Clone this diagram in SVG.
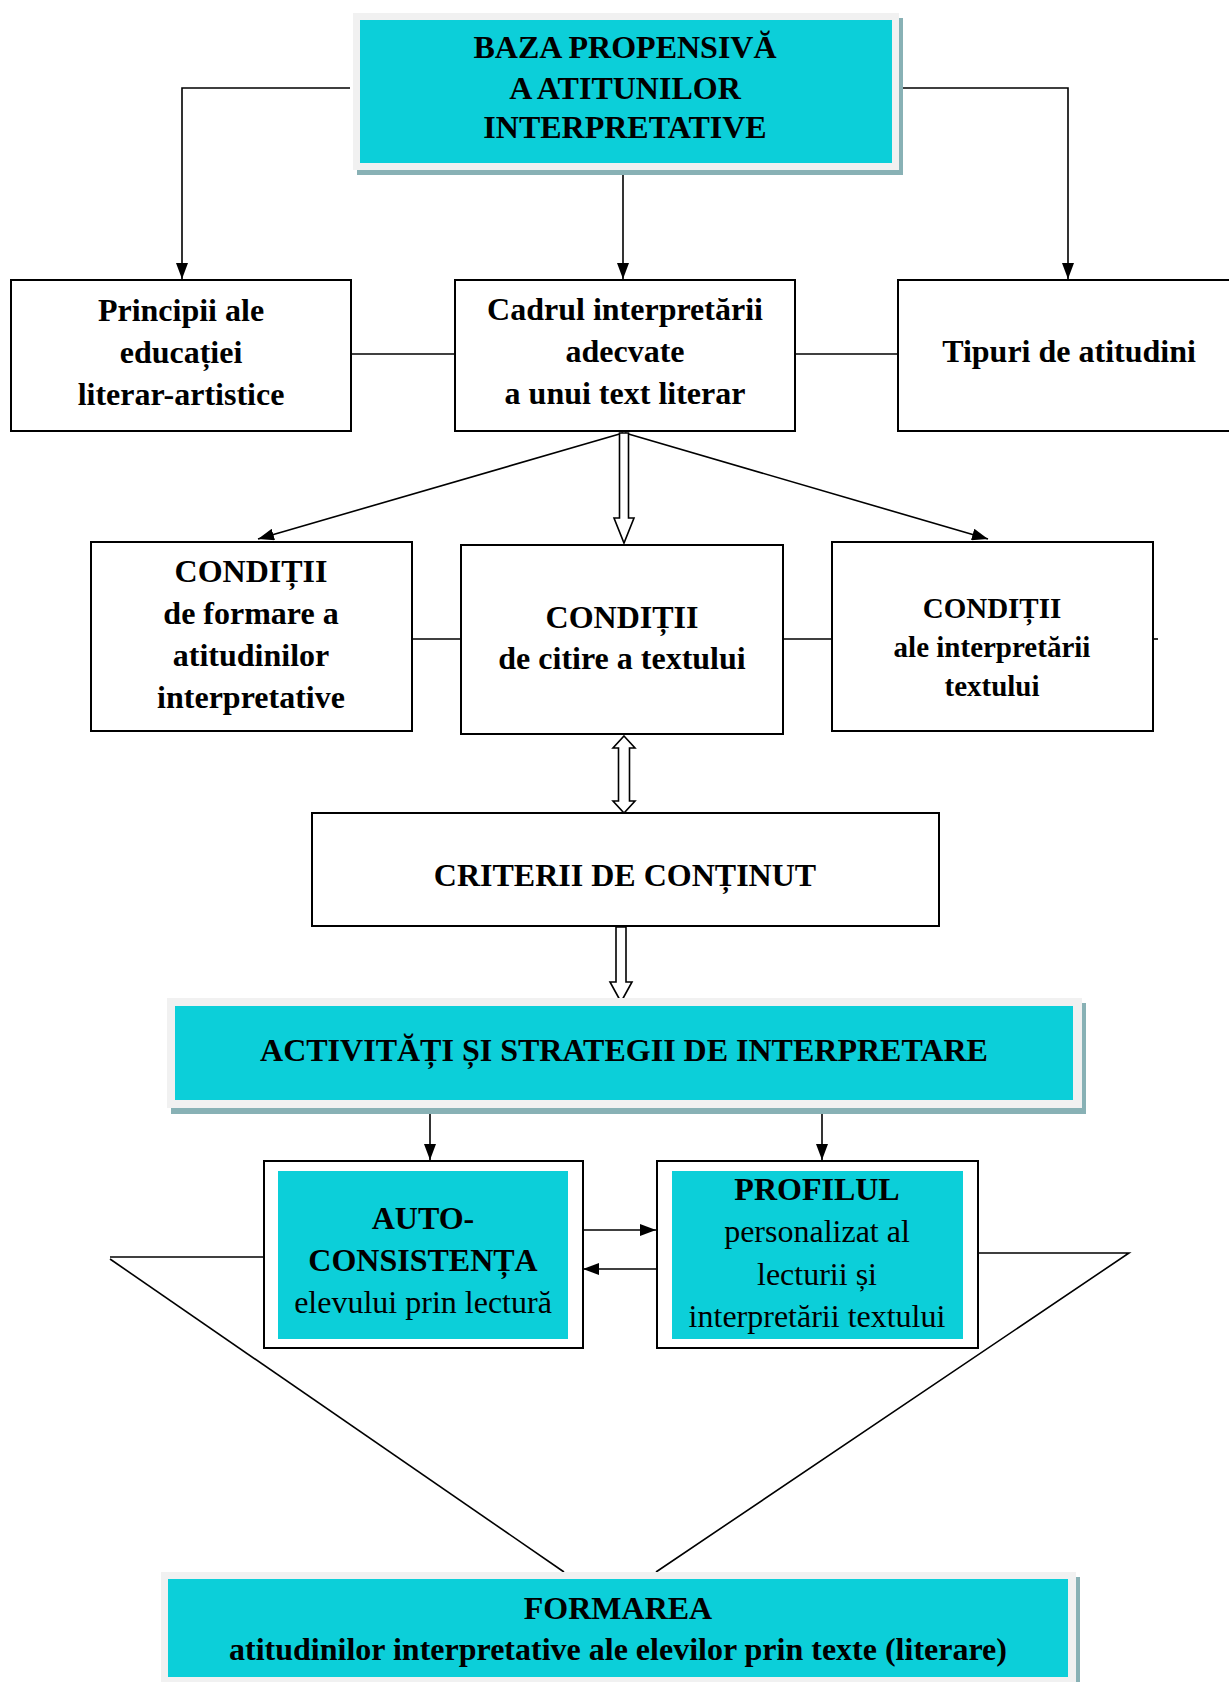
<svg xmlns="http://www.w3.org/2000/svg" width="1229" height="1682" viewBox="0 0 1229 1682">
<style>
  .box { fill: #ffffff; stroke: #000000; stroke-width: 2; }
  .frame { fill: #f1f1f1; }
  .shadow { fill: #88b1b5; }
  .cyan { fill: #0ccfd9; }
  .t { font-family: "Liberation Serif", "Times New Roman", serif; font-size: 32px; fill: #000; text-anchor: middle; }
  .b { font-weight: bold; }
  .s { font-size: 29px; }
  .ln { fill: none; stroke: #000; stroke-width: 1.6; }
  .hollow { fill: #ffffff; stroke: #000; stroke-width: 1.6; stroke-linejoin: miter; }
</style>
<defs>
  <marker id="ah" markerWidth="16" markerHeight="12" refX="16" refY="6" orient="auto" markerUnits="userSpaceOnUse">
    <path d="M0,0 L16,6 L0,12 z" fill="#000"/>
  </marker>
</defs>
<rect width="1229" height="1682" fill="#ffffff"/>

<g id="connectors">
  <polyline class="ln" points="350,88 182,88 182,279" marker-end="url(#ah)"/>
  <polyline class="ln" points="900,88 1068,88 1068,279" marker-end="url(#ah)"/>
  <line class="ln" x1="623" y1="174" x2="623" y2="279" marker-end="url(#ah)"/>
  <line class="ln" x1="351" y1="354" x2="455" y2="354"/>
  <line class="ln" x1="795" y1="354" x2="898" y2="354"/>
  <line class="ln" x1="623" y1="433" x2="258" y2="539" marker-end="url(#ah)"/>
  <line class="ln" x1="625" y1="433" x2="988" y2="539" marker-end="url(#ah)"/>
  <path class="hollow" d="M619.5,433 L619.5,518 L614,518 L624,543 L634,518 L628.5,518 L628.5,433 Z"/>
  <line class="ln" x1="412" y1="639" x2="461" y2="639"/>
  <line class="ln" x1="783" y1="639" x2="832" y2="639"/>
  <line class="ln" x1="1153" y1="639" x2="1158" y2="639"/>
  <path class="hollow" d="M624,736 L635,748 L629.5,748 L629.5,801 L635,801 L624,813 L613,801 L618.5,801 L618.5,748 L613,748 Z"/>
  <path class="hollow" d="M616,927 L616,982 L610,982 L621,1002 L632,982 L626,982 L626,927 Z"/>
  <line class="ln" x1="430" y1="1110" x2="430" y2="1160" marker-end="url(#ah)"/>
  <line class="ln" x1="822" y1="1110" x2="822" y2="1160" marker-end="url(#ah)"/>
  <line class="ln" x1="584" y1="1230" x2="656" y2="1230" marker-end="url(#ah)"/>
  <line class="ln" x1="656" y1="1269" x2="583" y2="1269" marker-end="url(#ah)"/>
  <polyline class="ln" points="263,1257 110,1257"/>
  <line class="ln" x1="110" y1="1259" x2="564" y2="1572"/>
  <polyline class="ln" points="978,1253 1129,1253 656,1572"/>
</g>

<g id="baza">
  <rect class="shadow" x="357" y="18" width="546" height="157"/>
  <rect class="frame" x="353" y="13" width="546" height="157"/>
  <rect class="cyan" x="360" y="20" width="532" height="143"/>
  <text class="t b" x="625" y="58">BAZA PROPENSIVĂ</text>
  <text class="t b" x="625" y="99">A ATITUNILOR</text>
  <text class="t b" x="625" y="138">INTERPRETATIVE</text>
</g>

<g id="principii">
  <rect class="box" x="11" y="280" width="340" height="151"/>
  <text class="t b" x="181" y="321">Principii ale</text>
  <text class="t b" x="181" y="363">educației</text>
  <text class="t b" x="181" y="405">literar-artistice</text>
</g>

<g id="cadrul">
  <rect class="box" x="455" y="280" width="340" height="151"/>
  <text class="t b" x="625" y="320">Cadrul interpretării</text>
  <text class="t b" x="625" y="362">adecvate</text>
  <text class="t b" x="625" y="404">a unui text literar</text>
</g>

<g id="tipuri">
  <rect class="box" x="898" y="280" width="345" height="151"/>
  <text class="t b" x="1069" y="362">Tipuri de atitudini</text>
</g>

<g id="conditii-formare">
  <rect class="box" x="91" y="542" width="321" height="189"/>
  <text class="t b" x="251" y="582">CONDIȚII</text>
  <text class="t b" x="251" y="624">de formare a</text>
  <text class="t b" x="251" y="666">atitudinilor</text>
  <text class="t b" x="251" y="708">interpretative</text>
</g>

<g id="conditii-citire">
  <rect class="box" x="461" y="545" width="322" height="189"/>
  <text class="t b" x="622" y="628">CONDIȚII</text>
  <text class="t b" x="622" y="669">de citire a textului</text>
</g>

<g id="conditii-interpretare">
  <rect class="box" x="832" y="542" width="321" height="189"/>
  <text class="t b s" x="992" y="618">CONDIȚII</text>
  <text class="t b s" x="992" y="657">ale interpretării</text>
  <text class="t b s" x="992" y="696">textului</text>
</g>

<g id="criterii">
  <rect class="box" x="312" y="813" width="627" height="113"/>
  <text class="t b" x="625" y="886">CRITERII DE CONȚINUT</text>
</g>

<g id="activitati">
  <rect class="shadow" x="171" y="1003" width="915" height="111"/>
  <rect class="frame" x="167" y="998" width="915" height="110"/>
  <rect class="cyan" x="175" y="1006" width="898" height="94"/>
  <text class="t b" x="624" y="1061">ACTIVITĂȚI ȘI STRATEGII DE INTERPRETARE</text>
</g>

<g id="auto">
  <rect class="box" x="264" y="1161" width="319" height="187"/>
  <rect class="cyan" x="278" y="1171" width="290" height="168"/>
  <text class="t b" x="423" y="1229">AUTO-</text>
  <text class="t b" x="423" y="1271">CONSISTENȚA</text>
  <text class="t" x="423" y="1313">elevului prin lectură</text>
</g>

<g id="profilul">
  <rect class="box" x="657" y="1161" width="321" height="187"/>
  <rect class="cyan" x="672" y="1171" width="291" height="168"/>
  <text class="t b" x="817" y="1200">PROFILUL</text>
  <text class="t" x="817" y="1242">personalizat al</text>
  <text class="t" x="817" y="1285">lecturii și</text>
  <text class="t" x="817" y="1327">interpretării textului</text>
</g>

<g id="formarea">
  <rect class="shadow" x="165" y="1577" width="915" height="110"/>
  <rect class="frame" x="161" y="1572" width="915" height="115"/>
  <rect class="cyan" x="168" y="1579" width="900" height="98"/>
  <text class="t b" x="618" y="1619">FORMAREA</text>
  <text class="t b" x="618" y="1660">atitudinilor interpretative ale elevilor prin texte (literare)</text>
</g>
</svg>
